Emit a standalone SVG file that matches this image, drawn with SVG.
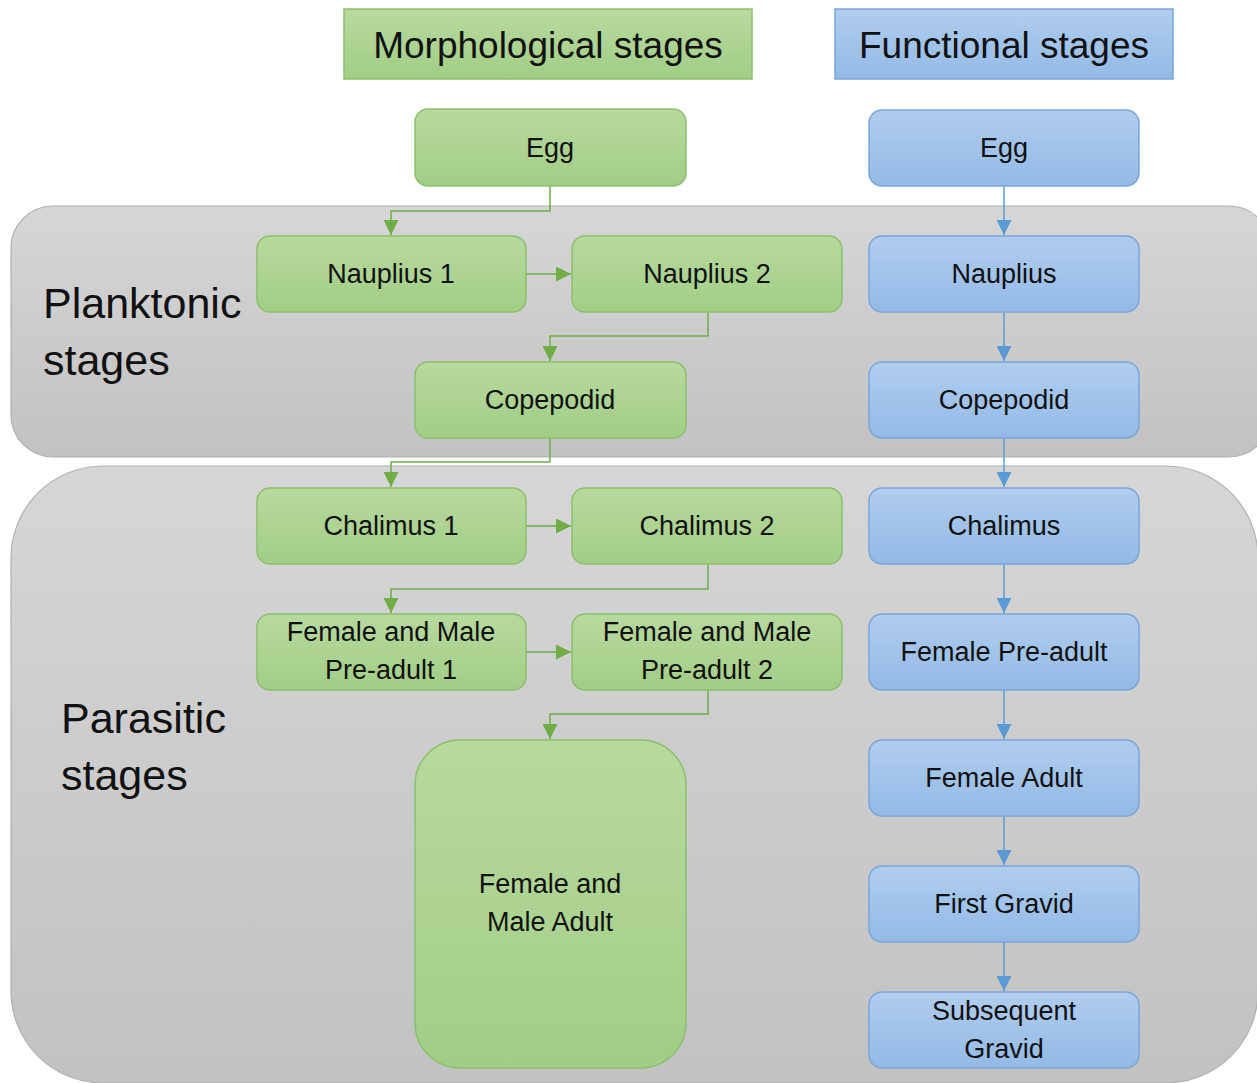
<svg xmlns="http://www.w3.org/2000/svg" width="1257" height="1083" viewBox="0 0 1257 1083">
<defs>
<linearGradient id="gGreen" x1="0" y1="0" x2="0" y2="1"><stop offset="0" stop-color="#b7da9f"/><stop offset="1" stop-color="#a2cd86"/></linearGradient>
<linearGradient id="gBlue" x1="0" y1="0" x2="0" y2="1"><stop offset="0" stop-color="#b0cdee"/><stop offset="1" stop-color="#93bae6"/></linearGradient>
<linearGradient id="gGray" x1="0" y1="0" x2="0" y2="1"><stop offset="0" stop-color="#d6d6d6"/><stop offset="1" stop-color="#c2c2c2"/></linearGradient>
<marker id="aG" viewBox="0 0 10 10" refX="10" refY="5" markerWidth="15" markerHeight="15" markerUnits="userSpaceOnUse" orient="auto"><path d="M0,0 L10,5 L0,10 z" fill="#70ad47"/></marker>
<marker id="aB" viewBox="0 0 10 10" refX="10" refY="5" markerWidth="15" markerHeight="15" markerUnits="userSpaceOnUse" orient="auto"><path d="M0,0 L10,5 L0,10 z" fill="#5b9bd5"/></marker>
</defs>
<style>
.region{fill:url(#gGray);stroke:#b0b0b0;stroke-width:1.2}
.g{fill:url(#gGreen);stroke:#8cc06c;stroke-width:1.5}
.b{fill:url(#gBlue);stroke:#79a7da;stroke-width:1.5}
.hg{fill:url(#gGreen);stroke:#8cc06c;stroke-width:1.5}
.hb{fill:url(#gBlue);stroke:#79a7da;stroke-width:1.5}
text{font-family:"Liberation Sans",Arial,sans-serif;fill:#111;text-anchor:middle}
.t{font-size:27px}
.h{font-size:37px}
.big{font-size:43px;text-anchor:start}
.cg{fill:none;stroke:#70ad47;stroke-width:1.5;marker-end:url(#aG)}
.cb{fill:none;stroke:#5b9bd5;stroke-width:1.5;marker-end:url(#aB)}
</style>
<rect width="1257" height="1083" fill="#ffffff"/>
<g id="planktonic">
<rect class="region" x="11" y="206" width="1260" height="251" rx="42"/>
<text class="big" x="43" y="318">Planktonic</text>
<text class="big" x="43" y="375">stages</text>
</g>
<g id="parasitic">
<rect class="region" x="11" y="466" width="1247" height="617" rx="92"/>
<text class="big" x="61" y="733">Parasitic</text>
<text class="big" x="61" y="790">stages</text>
</g>
<g id="hdr-morph"><rect class="hg" x="344" y="9" width="408" height="70"/><text class="h" x="548" y="58">Morphological stages</text></g>
<g id="hdr-func"><rect class="hb" x="835" y="9" width="338" height="70"/><text class="h" x="1004" y="58">Functional stages</text></g>
<g id="connectors">
<path class="cg" d="M550,186 V211 H391 V235"/>
<path class="cg" d="M526,274 H571"/>
<path class="cg" d="M708,312 V336 H550 V361"/>
<path class="cg" d="M550,438 V462 H391 V487"/>
<path class="cg" d="M526,526 H571"/>
<path class="cg" d="M708,564 V589 H391 V613"/>
<path class="cg" d="M526,652 H571"/>
<path class="cg" d="M708,690 V714 H550 V739"/>
<path class="cb" d="M1004,186 V235"/>
<path class="cb" d="M1004,312 V361"/>
<path class="cb" d="M1004,438 V487"/>
<path class="cb" d="M1004,564 V613"/>
<path class="cb" d="M1004,690 V739"/>
<path class="cb" d="M1004,816 V865"/>
<path class="cb" d="M1004,942 V991"/>
</g>
<g id="m-egg"><rect class="g" x="415" y="109" width="271" height="77" rx="13"/><text class="t" x="550" y="157">Egg</text></g>
<g id="m-nauplius1"><rect class="g" x="257" y="236" width="269" height="76" rx="13"/><text class="t" x="391" y="283">Nauplius 1</text></g>
<g id="m-nauplius2"><rect class="g" x="572" y="236" width="270" height="76" rx="13"/><text class="t" x="707" y="283">Nauplius 2</text></g>
<g id="m-copepodid"><rect class="g" x="415" y="362" width="271" height="76" rx="13"/><text class="t" x="550" y="409">Copepodid</text></g>
<g id="m-chalimus1"><rect class="g" x="257" y="488" width="269" height="76" rx="13"/><text class="t" x="391" y="535">Chalimus 1</text></g>
<g id="m-chalimus2"><rect class="g" x="572" y="488" width="270" height="76" rx="13"/><text class="t" x="707" y="535">Chalimus 2</text></g>
<g id="m-preadult1"><rect class="g" x="257" y="614" width="269" height="76" rx="13"/><text class="t" x="391" y="641">Female and Male</text><text class="t" x="391" y="679">Pre-adult 1</text></g>
<g id="m-preadult2"><rect class="g" x="572" y="614" width="270" height="76" rx="13"/><text class="t" x="707" y="641">Female and Male</text><text class="t" x="707" y="679">Pre-adult 2</text></g>
<g id="m-adult"><rect class="g" x="415" y="740" width="271" height="328" rx="45"/><text class="t" x="550" y="893">Female and</text><text class="t" x="550" y="931">Male Adult</text></g>
<g id="f-egg"><rect class="b" x="869" y="110" width="270" height="76" rx="13"/><text class="t" x="1004" y="157">Egg</text></g>
<g id="f-nauplius"><rect class="b" x="869" y="236" width="270" height="76" rx="13"/><text class="t" x="1004" y="283">Nauplius</text></g>
<g id="f-copepodid"><rect class="b" x="869" y="362" width="270" height="76" rx="13"/><text class="t" x="1004" y="409">Copepodid</text></g>
<g id="f-chalimus"><rect class="b" x="869" y="488" width="270" height="76" rx="13"/><text class="t" x="1004" y="535">Chalimus</text></g>
<g id="f-preadult"><rect class="b" x="869" y="614" width="270" height="76" rx="13"/><text class="t" x="1004" y="661">Female Pre-adult</text></g>
<g id="f-adult"><rect class="b" x="869" y="740" width="270" height="76" rx="13"/><text class="t" x="1004" y="787">Female Adult</text></g>
<g id="f-firstgravid"><rect class="b" x="869" y="866" width="270" height="76" rx="13"/><text class="t" x="1004" y="913">First Gravid</text></g>
<g id="f-subsequent"><rect class="b" x="869" y="992" width="270" height="76" rx="13"/><text class="t" x="1004" y="1020">Subsequent</text><text class="t" x="1004" y="1058">Gravid</text></g>
</svg>
